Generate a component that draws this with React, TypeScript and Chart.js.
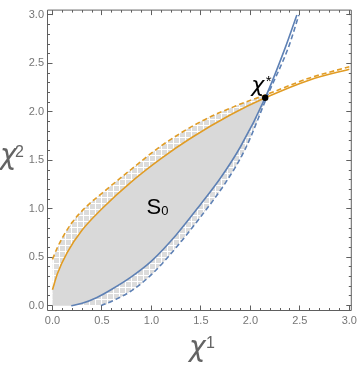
import React, { useEffect, useRef } from "react";
import { Chart, registerables } from "chart.js";

Chart.register(...registerables);

// ---- tick values / labels ----
const xTickValues = [0, 0.5, 1, 1.5, 2, 2.5, 3];
const xTickLabels = ["0.0", "0.5", "1.0", "1.5", "2.0", "2.5", "3.0"];
const yTickValues = [0, 0.5, 1, 1.5, 2, 2.5, 3];
const yTickLabels = ["0.0", "0.5", "1.0", "1.5", "2.0", "2.5", "3.0"];

// ---- curves ----
const orangeSolidX = [0, 0.05, 0.15, 0.3, 0.5, 0.8, 1.1, 1.4, 1.8, 2.15, 2.6, 3.0];
const orangeSolidY = [0.165, 0.33, 0.55, 0.78, 1.0, 1.28, 1.52, 1.73, 1.97, 2.145, 2.33, 2.44];

const orangeDashedX = [0, 0.05, 0.1, 0.2, 0.35, 0.5, 0.8, 1.1, 1.5, 1.85, 2.18, 2.6, 3.0];
const orangeDashedY = [0.478, 0.6, 0.7, 0.86, 1.03, 1.16, 1.41, 1.65, 1.9, 2.06, 2.185, 2.35, 2.465];

const blueSolidX = [0.19, 0.3, 0.45, 0.6, 0.8, 1.0, 1.25, 1.5, 1.7, 1.9, 2.15, 2.35, 2.47];
const blueSolidY = [0, 0.025, 0.085, 0.17, 0.3, 0.46, 0.73, 1.05, 1.32, 1.64, 2.145, 2.655, 3.0];

const blueDashedX = [0.49, 0.65, 0.8, 1.0, 1.25, 1.5, 1.75, 1.95, 2.18, 2.39, 2.49];
const blueDashedY = [0, 0.07, 0.155, 0.32, 0.6, 0.92, 1.27, 1.62, 2.185, 2.68, 3.0];

// intersection point χ*
const criticalX = [2.15];
const criticalY = [2.145];
// dashed-curve intersection
const dashedMeetX = 2.18;

// region corner (origin of the shaded set)
const cornerX = [0];
const cornerY = [0];

const ORANGE = "#e19c24";
const BLUE = "#5e81b5";
const FRAME = "#5f5f5f";
const TICKTEXT = "#757575";
const FILL = "#d9d9d9";

type P = { x: number; y: number };
const pts = (xs: number[], ys: number[]): P[] => xs.map((x, i) => ({ x, y: ys[i] }));

function makePattern(ctx: CanvasRenderingContext2D): CanvasPattern | string {
  const c = document.createElement("canvas");
  c.width = 6;
  c.height = 6;
  const g = c.getContext("2d");
  if (!g) return FILL;
  g.fillStyle = "#dcdcdc";
  g.fillRect(0, 0, 6, 6);
  g.fillStyle = "#ffffff";
  g.fillRect(5, 0, 1, 6);
  g.fillRect(0, 5, 6, 1);
  return ctx.createPattern(c, "repeat") || FILL;
}

const framePlugin = {
  id: "mmaFrame",
  afterDatasetsDraw(chart: any) {
    const { ctx, chartArea: a, scales } = chart;
    const xs = scales.x;
    const ys = scales.y;
    const L = a.left - 0.5;
    const R = a.right - 0.5;
    const T = a.top - 0.5;
    const B = a.bottom - 0.5;
    ctx.save();
    ctx.strokeStyle = FRAME;
    ctx.lineWidth = 1;
    ctx.beginPath();
    ctx.rect(L, T, R - L, B - T);
    ctx.stroke();
    ctx.beginPath();
    for (let i = 0; i <= 30; i++) {
      const v = i / 10;
      const len = i % 5 === 0 ? 5 : 2.5;
      const px = Math.floor(xs.getPixelForValue(v)) + 0.5;
      ctx.moveTo(px, B);
      ctx.lineTo(px, B - len);
      ctx.moveTo(px, T);
      ctx.lineTo(px, T + len);
      const py = Math.floor(ys.getPixelForValue(v)) + 0.5;
      ctx.moveTo(L, py);
      ctx.lineTo(L + len, py);
      ctx.moveTo(R, py);
      ctx.lineTo(R - len, py);
    }
    ctx.stroke();
    ctx.restore();
  },
};

const labelPlugin = {
  id: "mmaLabels",
  afterDraw(chart: any) {
    const { ctx, scales } = chart;
    const px = scales.x.getPixelForValue(criticalX[0]);
    const py = scales.y.getPixelForValue(criticalY[0]);
    ctx.save();
    ctx.textAlign = "left";
    ctx.textBaseline = "alphabetic";
    // χ*
    ctx.fillStyle = "#000";
    ctx.font = "italic 22px 'DejaVu Sans'";
    ctx.fillText("χ", px - 14, py - 6);
    ctx.font = "15px 'Liberation Sans'";
    ctx.fillText("*", px + 0.5, py - 12);
    // S0
    const sx = scales.x.getPixelForValue(0.95);
    const sy = scales.y.getPixelForValue(0.95);
    ctx.font = "22px 'Liberation Sans'";
    ctx.fillText("S", sx, sy);
    const sw = ctx.measureText("S").width;
    ctx.font = "13px 'Liberation Sans'";
    ctx.fillText("0", sx + sw, sy + 1);
    // axis labels
    ctx.fillStyle = "#646464";
    ctx.font = "italic 28px 'DejaVu Sans'";
    ctx.fillText("χ", 189, 356);
    ctx.fillText("χ", 0, 164);
    ctx.font = "16px 'Liberation Sans'";
    ctx.fillText("1", 206, 348);
    ctx.fillText("2", 15, 157);
    ctx.restore();
  },
};

export default function App() {
  const ref = useRef<HTMLCanvasElement | null>(null);

  useEffect(() => {
    const canvas = ref.current;
    if (!canvas) return;
    const ctx = canvas.getContext("2d");
    if (!ctx) return;
    const pattern = makePattern(ctx);

    const orangeSolid = pts(orangeSolidX, orangeSolidY);
    const orangeDashed = pts(orangeDashedX, orangeDashedY);
    const blueSolid = pts(blueSolidX, blueSolidY);
    const blueDashed = pts(blueDashedX, blueDashedY);
    const corner = pts(cornerX, cornerY);

    const grayUpper = orangeSolid.filter((p) => p.x <= criticalX[0] + 1e-9);
    const grayLower = [...corner, ...blueSolid.filter((p) => p.x <= criticalX[0] + 1e-9)];
    const patUpper = orangeDashed.filter((p) => p.x <= dashedMeetX + 1e-9);
    const patLower = [...corner, ...blueDashed.filter((p) => p.x <= dashedMeetX + 1e-9)];

    const lineBase = {
      pointRadius: 0,
      pointHoverRadius: 0,
      borderWidth: 1.6,
      cubicInterpolationMode: "monotone" as const,
      fill: false,
    };
    const hidden = {
      ...lineBase,
      borderWidth: 0,
      borderColor: "rgba(0,0,0,0)",
    };

    const tickFont = { family: "'Liberation Sans'", size: 11 };

    const chart = new Chart(ctx, {
      type: "line",
      data: {
        datasets: [
          {
            label: "χ*",
            data: pts(criticalX, criticalY),
            showLine: false,
            pointRadius: 3.2,
            pointBackgroundColor: "#000",
            pointBorderWidth: 0,
            borderColor: "#000",
          } as any,
          { ...lineBase, label: "orange", data: orangeSolid, borderColor: ORANGE },
          { ...lineBase, label: "blue", data: blueSolid, borderColor: BLUE },
          { ...lineBase, label: "orange dashed", data: orangeDashed, borderColor: ORANGE, borderDash: [5, 3] },
          { ...lineBase, label: "blue dashed", data: blueDashed, borderColor: BLUE, borderDash: [5, 3] },
          { ...hidden, label: "S0 upper", data: grayUpper, fill: "+1", backgroundColor: FILL },
          { ...hidden, label: "S0 lower", data: grayLower },
          { ...hidden, label: "band upper", data: patUpper, fill: "+1", backgroundColor: pattern as any },
          { ...hidden, label: "band lower", data: patLower },
        ],
      },
      options: {
        animation: false,
        responsive: true,
        maintainAspectRatio: false,
        layout: { padding: { top: 2, right: 5, left: 0, bottom: 0 } },
        plugins: {
          legend: { display: false },
          tooltip: { enabled: false },
          filler: { drawTime: "beforeDatasetsDraw", propagate: false },
        },
        scales: {
          x: {
            type: "linear",
            min: -0.045,
            max: 3.025,
            grid: { display: false, drawTicks: false },
            border: { display: false },
            ticks: {
              color: TICKTEXT,
              font: tickFont,
              padding: 3,
              maxRotation: 0,
              autoSkip: false,
              callback: (_v: any, i: number) => xTickLabels[i],
            },
            afterBuildTicks: (s: any) => {
              s.ticks = xTickValues.map((v) => ({ value: v }));
            },
            afterFit: (s: any) => {
              s.height = 54;
            },
          },
          y: {
            type: "linear",
            min: -0.055,
            max: 3.045,
            grid: { display: false, drawTicks: false },
            border: { display: false },
            ticks: {
              color: TICKTEXT,
              font: tickFont,
              padding: 4,
              autoSkip: false,
              callback: (_v: any, i: number) => yTickLabels[i],
            },
            afterBuildTicks: (s: any) => {
              s.ticks = yTickValues.map((v) => ({ value: v }));
            },
            afterFit: (s: any) => {
              s.width = 48;
            },
          },
        },
      },
      plugins: [framePlugin, labelPlugin],
    });

    return () => chart.destroy();
  }, []);

  return (
    <div style={{ position: "fixed", left: 0, top: 0, width: 360, height: 365, background: "#fff" }}>
      <canvas ref={ref} />
    </div>
  );
}
